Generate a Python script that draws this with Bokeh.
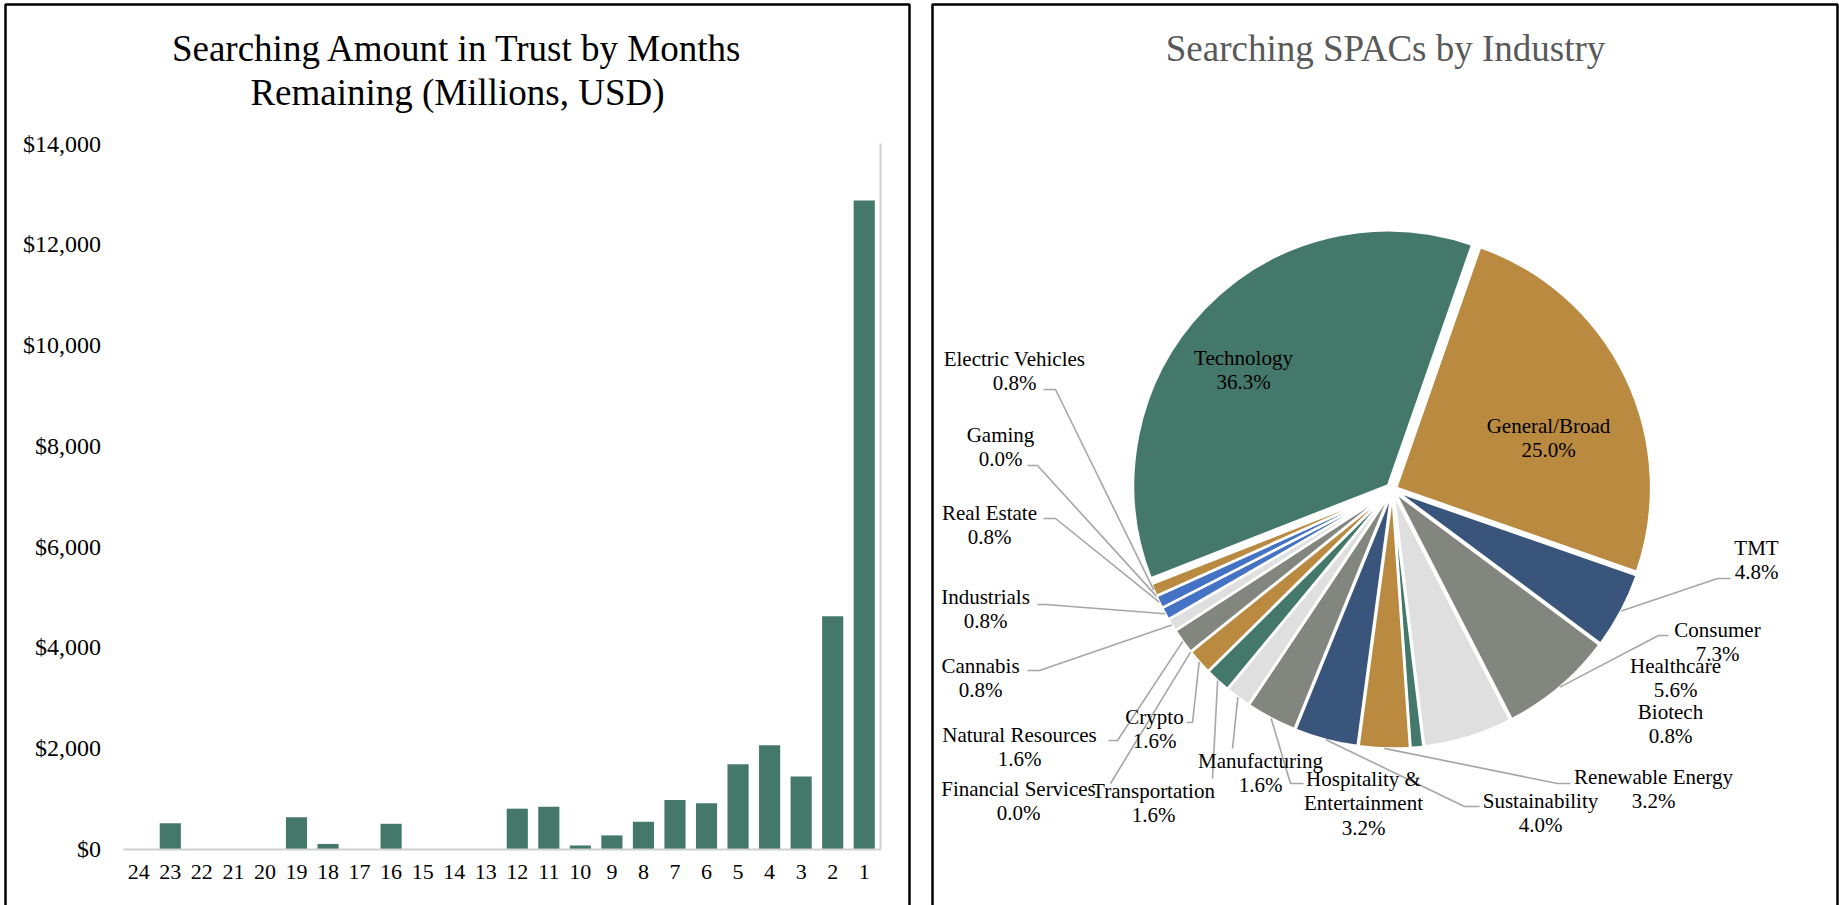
import math
from bokeh.plotting import figure
from bokeh.models import Range1d, LinearAxis, FixedTicker, NumeralTickFormatter
from bokeh.core.properties import value
from bokeh.embed import file_html
from bokeh.resources import INLINE

# ---------------- data ----------------
months = [24, 23, 22, 21, 20, 19, 18, 17, 16, 15, 14, 13,
          12, 11, 10, 9, 8, 7, 6, 5, 4, 3, 2, 1]
amount_in_trust = [0, 510, 0, 0, 0, 630, 100, 0, 500, 0, 0, 0,
                   800, 840, 70, 270, 540, 970, 910, 1680, 2060, 1440, 4620, 12870]
value_ticks = [0, 2000, 4000, 6000, 8000, 10000, 12000, 14000]

industries = ["Technology", "General/Broad", "TMT", "Consumer", "Healthcare", "Biotech",
              "Renewable Energy", "Sustainability", "Hospitality & Entertainment",
              "Manufacturing", "Transportation", "Crypto", "Financial Services",
              "Natural Resources", "Cannabis", "Industrials", "Real Estate", "Gaming",
              "Electric Vehicles"]
spac_counts = [45, 31, 6, 9, 7, 1, 4, 5, 4, 2, 2, 2, 0, 2, 1, 1, 1, 0, 1]

bar_title_lines = ["Searching Amount in Trust by Months", "Remaining (Millions, USD)"]
pie_title = "Searching SPACs by Industry"

# ---------------- styles ----------------
FONT = "Liberation Serif"
GREEN, GOLD, NAVY = "#44786A", "#BA8A40", "#3A557C"
GREY, LIGHT, BLUE = "#83857F", "#DFDFDF", "#4472C4"
slice_colors = [GREEN, GOLD, NAVY, GREY, LIGHT, GREEN, GOLD, NAVY, GREY, LIGHT,
                GREEN, GOLD, NAVY, GREY, LIGHT, BLUE, BLUE, GOLD, GOLD]
slice_explode = [6] + [4] * 18          # px pulled out from the centre
label_wrap = {"Hospitality & Entertainment": ["Hospitality &", "Entertainment"]}

# ---------------- layout (page pixels) ----------------
W, H = 1839, 905
OX, OY = 0, 0
BAR_L, BAR_R = 122.5, 879.5       # months 24.5 .. 0.5
BAR_TOP, BAR_BOT = 143.0, 848.5   # 14000 .. 0
YMAX = 14000

PIE_CX, PIE_CY, PIE_R = 1392, 489, 255
FIRST_SLICE_DEG = 248.6           # clockwise from 12 o'clock
LABEL_DY = 24.5

LABEL_POS = {
    "Technology": (1243, 357), "General/Broad": (1548, 425), "TMT": (1756, 547),
    "Consumer": (1717, 629), "Healthcare": (1675, 665), "Biotech": (1670, 711),
    "Renewable Energy": (1653, 776), "Sustainability": (1540, 800),
    "Hospitality & Entertainment": (1363, 778), "Manufacturing": (1260, 760),
    "Transportation": (1153, 790), "Crypto": (1154, 716),
    "Financial Services": (1018, 788), "Natural Resources": (1019, 734),
    "Cannabis": (980, 665), "Industrials": (985, 596), "Real Estate": (989, 512),
    "Gaming": (1000, 434), "Electric Vehicles": (1014, 358),
}
LEADER_PTS = {
    "TMT": [(1717, 578), (1730, 578)],
    "Consumer": [(1658, 635), (1668, 635)],
    "Renewable Energy": [(1557, 783), (1570, 783)],
    "Sustainability": [(1464, 806), (1479, 806)],
    "Hospitality & Entertainment": [(1290, 783), (1303, 783)],
    "Manufacturing": [(1232, 748)],
    "Transportation": [(1212, 778)],
    "Crypto": [(1192, 722), (1186, 722)],
    "Financial Services": [(1110, 783)],
    "Natural Resources": [(1117, 740), (1108, 740)],
    "Cannabis": [(1039, 670), (1027, 670)],
    "Industrials": [(1045, 604), (1037, 604)],
    "Real Estate": [(1055, 518), (1043, 518)],
    "Gaming": [(1037, 465), (1027, 465)],
    "Electric Vehicles": [(1055, 389), (1043, 389)],
}

# ---------------- ranges ----------------
k = (BAR_R - BAR_L) / 24.0
x_start = 24.5 + (BAR_L - OX) / k
x_end = 0.5 - (OX + W - BAR_R) / k
vpp = YMAX / (BAR_BOT - BAR_TOP)
y_start = -(OY + H - BAR_BOT) * vpp
y_end = (BAR_BOT - OY) * vpp

p = figure(width=W, height=H, x_range=Range1d(x_start, x_end), y_range=Range1d(y_start, y_end),
           output_backend="svg", toolbar_location=None, tools="",
           x_axis_location=None, y_axis_location=None, min_border=0,
           outline_line_color=None, background_fill_color="white", border_fill_color="white")
p.title.visible = False
p.grid.visible = False
p.extra_x_ranges = {"px": Range1d(OX, OX + W)}
p.extra_y_ranges = {"py": Range1d(-(OY + H), -OY)}   # value = -page_y


def PY(y):
    return -y


# ---------------- bar chart ----------------
p.vbar(x=months, top=amount_in_trust, bottom=0, width=0.67,
       fill_color=GREEN, line_color=None)

yax = LinearAxis(fixed_location=24.5, bounds=(0, YMAX), ticker=FixedTicker(ticks=value_ticks),
                 formatter=NumeralTickFormatter(format="$0,0"),
                 axis_line_color=None, major_tick_line_color=None, minor_tick_line_color=None,
                 major_tick_in=0, major_tick_out=0, major_label_standoff=22,
                 major_label_text_font=FONT, major_label_text_font_size="24px",
                 major_label_text_color="#000000")
p.add_layout(yax, "left")

rax = LinearAxis(fixed_location=0.5, bounds=(0, YMAX), ticker=FixedTicker(ticks=[]),
                 axis_line_color="#D0D0D0", axis_line_width=2,
                 major_tick_line_color=None, minor_tick_line_color=None,
                 major_tick_in=0, major_tick_out=0, major_label_text_alpha=0)
p.add_layout(rax, "right")

xax = LinearAxis(fixed_location=0, bounds=(0.5, 24.5), ticker=FixedTicker(ticks=months),
                 axis_line_color="#D0D0D0", axis_line_width=2,
                 major_tick_line_color=None, minor_tick_line_color=None,
                 major_tick_in=0, major_tick_out=0, major_label_standoff=16,
                 major_label_text_font=FONT, major_label_text_font_size="22px",
                 major_label_text_color="#000000")
p.add_layout(xax, "below")

# ---------------- pie ----------------
total = float(sum(spac_counts))
starts, ends, mids = [], [], []
acc = FIRST_SLICE_DEG
for c in spac_counts:
    a0 = acc
    acc += 360.0 * c / total
    starts.append(a0)
    ends.append(acc)
    mids.append((a0 + acc) / 2.0)

wx, wy, sa, ea, wc = [], [], [], [], []
for i, c in enumerate(spac_counts):
    if c == 0:
        continue
    m = math.radians(mids[i])
    e = slice_explode[i]
    wx.append(PIE_CX + e * math.sin(m))
    wy.append(PY(PIE_CY) + e * math.cos(m))
    sa.append(math.pi / 2 - math.radians(starts[i]))
    ea.append(math.pi / 2 - math.radians(ends[i]))
    wc.append(slice_colors[i])

p.wedge(x=wx, y=wy, radius=PIE_R, radius_units="screen", start_angle=sa, end_angle=ea,
        direction="clock", fill_color=wc, line_color="white", line_width=2.5,
        x_range_name="px", y_range_name="py")

# leader lines
lxs, lys = [], []
for i, name in enumerate(industries):
    if name not in LEADER_PTS:
        continue
    m = math.radians(mids[i])
    e = slice_explode[i]
    sx = PIE_CX + (PIE_R + e) * math.sin(m)
    sy = PIE_CY - (PIE_R + e) * math.cos(m)
    pts = [(sx, sy)] + LEADER_PTS[name]
    lxs.append([q[0] for q in pts])
    lys.append([PY(q[1]) for q in pts])
p.multi_line(xs=lxs, ys=lys, line_color="#A6A6A6", line_width=1.6,
             x_range_name="px", y_range_name="py")

# data labels
tx, ty, tt = [], [], []
for i, name in enumerate(industries):
    lines = label_wrap.get(name, [name]) + ["%.1f%%" % (100.0 * spac_counts[i] / total)]
    cx, cy = LABEL_POS[name]
    for j, s in enumerate(lines):
        tx.append(cx)
        ty.append(PY(cy + j * LABEL_DY))
        tt.append(s)
p.text(x=tx, y=ty, text=tt, text_align="center", text_baseline="middle",
       text_font=value(FONT), text_font_size="21px", text_color="#000000",
       x_range_name="px", y_range_name="py")

# ---------------- titles ----------------
p.text(x=[457, 457], y=[PY(48), PY(92)], text=bar_title_lines, text_align="center",
       text_baseline="middle", text_font=value(FONT), text_font_size="37px",
       text_color="#000000", x_range_name="px", y_range_name="py")
p.text(x=[1385], y=[PY(48)], text=[pie_title], text_align="center",
       text_baseline="middle", text_font=value(FONT), text_font_size="37px",
       text_color="#595959", x_range_name="px", y_range_name="py")

# ---------------- panel borders ----------------
bottom = OY + H + 5
top = 4
p.multi_line(xs=[[5, 5, 909, 909], [932, 932, 1837, 1837]],
             ys=[[PY(bottom), PY(top), PY(top), PY(bottom)]] * 2,
             line_color="#000000", line_width=2.5, x_range_name="px", y_range_name="py")

open("out.html", "w").write(file_html(p, INLINE))
